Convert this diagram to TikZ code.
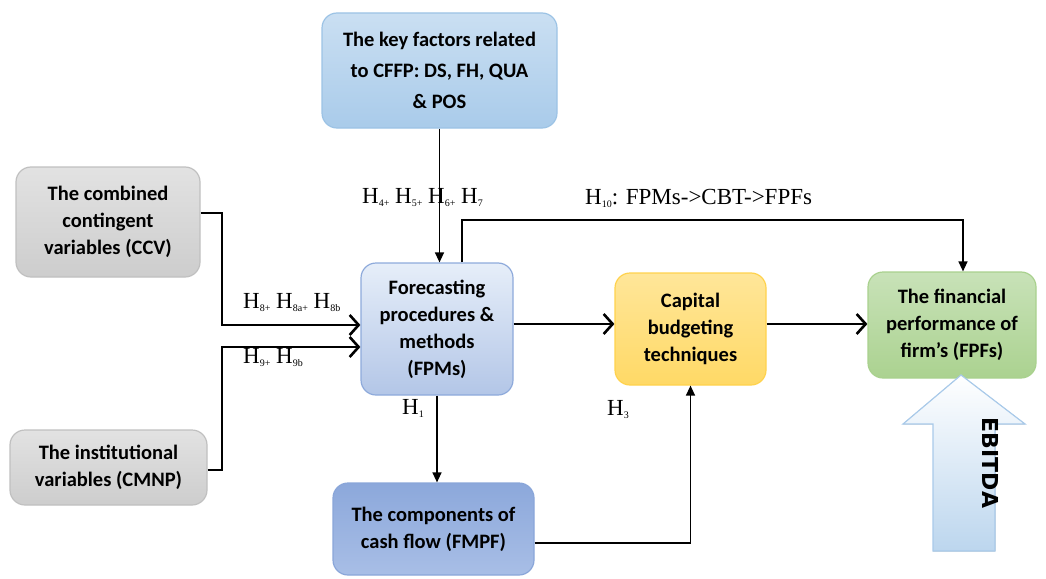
\documentclass[tikz,border=0pt]{standalone}
\usepackage{fontspec}
\setmainfont{Liberation Serif}
\newfontfamily\boxfont{Carlito}
\newfontfamily\ebfont{DejaVu Sans}
\usetikzlibrary{arrows.meta,calc}
\definecolor{kfTop}{HTML}{CADFF2}
\definecolor{kfBot}{HTML}{A9CBEA}
\definecolor{kfLine}{HTML}{9CC3E5}
\definecolor{gTop}{HTML}{E2E2E2}
\definecolor{gBot}{HTML}{CDCDCD}
\definecolor{gLine}{HTML}{C0C0C0}
\definecolor{fTop}{HTML}{E6EEF9}
\definecolor{fBot}{HTML}{B3C6E7}
\definecolor{fLine}{HTML}{8EAADB}
\definecolor{cTop}{HTML}{8CA8DB}
\definecolor{cBot}{HTML}{A8BEE6}
\definecolor{cLine}{HTML}{8AA6D9}
\definecolor{yTop}{HTML}{FFE699}
\definecolor{yBot}{HTML}{FFD966}
\definecolor{yLine}{HTML}{FFD24D}
\definecolor{grTop}{HTML}{C8E2B8}
\definecolor{grBot}{HTML}{ABD290}
\definecolor{grLine}{HTML}{A9D18E}
\definecolor{ebBot}{HTML}{BCD6EE}
\definecolor{ebLine}{HTML}{A9CAEA}
\newcommand{\Hsub}[1]{H\raisebox{-3pt}{\fontsize{10}{10}\selectfont #1}}
\tikzset{
  box/.style={rounded corners=15pt, inner sep=2pt, align=center, line width=1.2pt,
    font=\boxfont\bfseries\fontsize{20.5}{27}\selectfont},
  thinarr/.style={line width=1.3pt, -{Triangle[length=10pt,width=9pt]}},
  bigarr/.style={line width=2.2pt, -{Straight Barb[length=9pt,width=20pt,line width=2.6pt]}},
  hlab/.style={font=\fontsize{23}{26}\selectfont, inner sep=0pt}
}
\begin{document}
\begin{tikzpicture}[x=1pt,y=-1pt]
\useasboundingbox (0,0) rectangle (1046,578);
\node[box, draw=kfLine, top color=kfTop, bottom color=kfBot, minimum width=235pt, minimum height=115pt,
  font=\boxfont\bfseries\fontsize{20.5}{31}\selectfont] (kf) at (439.5,70.5) {The key factors related\\to CFFP: DS, FH, QUA\\\& POS};
\node[box, draw=gLine, top color=gTop, bottom color=gBot, minimum width=184pt, minimum height=110pt] (ccv) at (108,222) {The combined\\contingent\\variables (CCV)};
\node[box, draw=gLine, top color=gTop, bottom color=gBot, minimum width=197pt, minimum height=75pt] (inst) at (108.5,467.5) {The institutional\\variables (CMNP)};
\node[box, draw=fLine, top color=fTop, bottom color=fBot, minimum width=152pt, minimum height=132pt] (fpm) at (437,329) {Forecasting\\procedures \&\\methods\\(FPMs)};
\node[box, draw=cLine, top color=cTop, bottom color=cBot, minimum width=201pt, minimum height=92pt] (comp) at (433.5,529) {The components of\\cash flow (FMPF)};
\node[box, draw=yLine, top color=yTop, bottom color=yBot, minimum width=151pt, minimum height=112pt] (cbt) at (690.5,329) {Capital\\budgeting\\techniques};
\node[box, draw=grLine, top color=grTop, bottom color=grBot, minimum width=168pt, minimum height=106pt] (fpf) at (952,325) {The financial\\performance of\\firm’s (FPFs)};
% EBITDA arrow
\filldraw[draw=ebLine, line width=1.2pt, top color=white, bottom color=ebBot]
  (961,375) -- (1025,424) -- (995,424) -- (995,551) -- (933,551) -- (933,424) -- (903,424) -- cycle;
\node[rotate=-90, font=\ebfont\bfseries\fontsize{22}{22}\selectfont, inner sep=0pt] (eb) at (991,463) {EBITDA};
% connectors
\draw[thinarr] (kf.south) -- (kf.south |- fpm.north);
\coordinate (h10a) at (462,220);
\coordinate (h10b) at (963,220);
\draw[thinarr] (fpm.north -| h10a) -- (h10a) -- (h10b) -- (h10b |- fpf.north);
\coordinate (j1) at (222,213);
\coordinate (j2) at (222,470);
\draw[bigarr] ([yshift=9pt]ccv.east) -- (j1) |- ([yshift=4pt]fpm.west);
\draw[bigarr] ([yshift=-2.5pt]inst.east) -- (j2) |- ([yshift=-18pt]fpm.west);
\draw[bigarr] ([yshift=5pt]fpm.east) -- ([yshift=5pt]cbt.west);
\draw[bigarr] ([yshift=5pt]cbt.east) -- ([yshift=5pt]cbt.east -| fpf.west);
\draw[thinarr] (fpm.south) -- (fpm.south |- comp.north);
\draw[thinarr] ([yshift=-14pt]comp.east) -| (cbt.south);
% labels
\node[hlab, anchor=west] (l1) at (362,198) {\Hsub{4+} \Hsub{5+} \Hsub{6+} \Hsub{7}};
\node[hlab, anchor=west] (l2) at (585,198) {\Hsub{10}: FPMs->CBT->FPFs};
\node[hlab, anchor=west] (l3) at (243,303) {\Hsub{8+} \Hsub{8a+} \Hsub{8b}};
\node[hlab, anchor=west] (l4) at (243,358) {\Hsub{9+} \Hsub{9b}};
\node[hlab, anchor=west] (l5) at (402,408) {\Hsub{1}};
\node[hlab, anchor=west] (l6) at (607,410) {\Hsub{3}};
\end{tikzpicture}
\end{document}
